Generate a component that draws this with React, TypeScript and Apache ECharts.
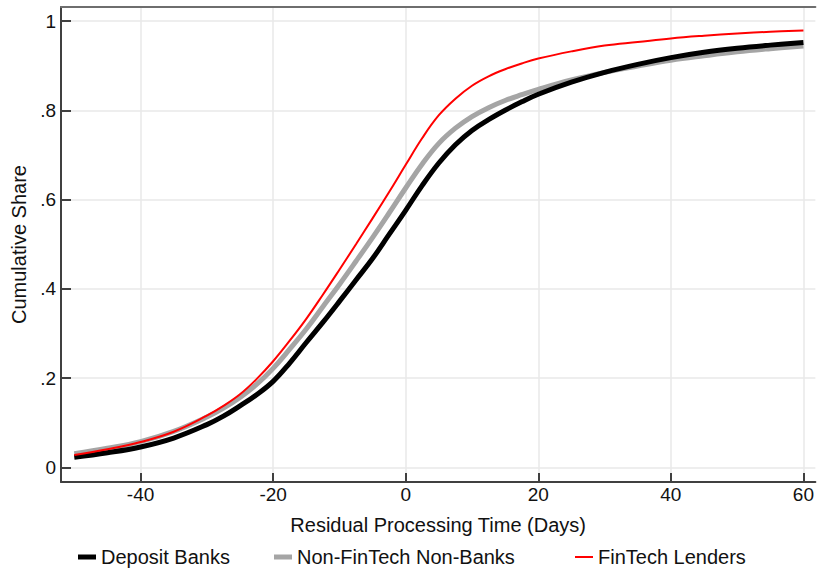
import React, { useEffect, useRef } from "react";
import * as echarts from "echarts";

// Residual processing time (days)
const days = [-50, -45, -40, -35, -30, -27.5, -25, -22.5, -20, -17.5, -15, -12.5, -10, -7.5, -5, -2.5, 0, 2.5, 5, 7.5, 10, 12.5, 15, 17.5, 20, 25, 30, 35, 40, 45, 50, 55, 60];

const depositBanks = [0.023, 0.033, 0.046, 0.066, 0.096, 0.115, 0.138, 0.163, 0.193, 0.234, 0.28, 0.325, 0.372, 0.42, 0.468, 0.522, 0.576, 0.632, 0.682, 0.723, 0.755, 0.779, 0.8, 0.819, 0.836, 0.863, 0.885, 0.903, 0.918, 0.93, 0.939, 0.946, 0.952];
const nonFinTechNonBanks = [0.031, 0.043, 0.058, 0.081, 0.113, 0.133, 0.157, 0.186, 0.222, 0.265, 0.31, 0.36, 0.41, 0.462, 0.515, 0.57, 0.626, 0.68, 0.726, 0.76, 0.786, 0.806, 0.822, 0.835, 0.847, 0.868, 0.885, 0.899, 0.912, 0.922, 0.931, 0.938, 0.944];
const finTechLenders = [0.028, 0.041, 0.057, 0.08, 0.116, 0.138, 0.164, 0.198, 0.238, 0.284, 0.333, 0.387, 0.443, 0.5, 0.558, 0.617, 0.678, 0.738, 0.789, 0.826, 0.855, 0.876, 0.892, 0.905, 0.916, 0.932, 0.945, 0.953, 0.961, 0.967, 0.972, 0.976, 0.979];

const seriesNames = ["Deposit Banks", "Non-FinTech Non-Banks", "FinTech Lenders"];
const xTicks = [-40, -20, 0, 20, 40, 60];
const yTicks = [0, 0.2, 0.4, 0.6, 0.8, 1];

const FONT = "'Liberation Sans', Arial, Helvetica, sans-serif";

function pairs(xs: number[], ys: number[]) {
  return xs.map((x, i) => [x, ys[i]]);
}

function fmtY(v: number) {
  if (Math.abs(v) < 1e-9) return "0";
  if (Math.abs(v - 1) < 1e-9) return "1";
  return v.toFixed(1).replace(/^0/, "");
}

export default function App() {
  const ref = useRef<HTMLDivElement>(null);

  useEffect(() => {
    if (!ref.current) return;
    const chart = echarts.init(ref.current, undefined, { renderer: "svg" });
    const xMin = -52;
    const xMax = 61.8;
    const axisColor = "#404040";
    const legendCommon = {
      top: 547,
      padding: 0,
      itemWidth: 18,
      itemGap: 10,
      icon: "rect",
      textStyle: { fontSize: 20, color: "#111", fontFamily: FONT },
    };
    chart.setOption({
      animation: false,
      backgroundColor: "#ffffff",
      textStyle: { fontFamily: FONT },
      grid: { left: 61, right: 0, top: 7, bottom: 89 },
      legend: [
        { ...legendCommon, left: 78, itemHeight: 5, data: [seriesNames[0]] },
        { ...legendCommon, left: 274, itemHeight: 5, data: [seriesNames[1]] },
        { ...legendCommon, left: 575, itemHeight: 2, data: [seriesNames[2]] },
      ],
      xAxis: [
        {
          type: "value",
          min: xMin,
          max: xMax,
          position: "bottom",
          name: "Residual Processing Time (Days)",
          nameLocation: "middle",
          nameGap: 33,
          nameTextStyle: { fontSize: 20, color: "#111", fontFamily: FONT },
          axisLine: { show: true, onZero: false, lineStyle: { color: axisColor, width: 2 } },
          axisTick: { show: true, inside: true, length: 9, customValues: xTicks, lineStyle: { color: axisColor, width: 2 } },
          axisLabel: { customValues: xTicks, fontSize: 19, color: "#111", margin: 3, fontFamily: FONT },
          splitLine: { show: true, lineStyle: { color: "#e8e8e8", width: 1.5 } },
        },
        {
          type: "value",
          min: xMin,
          max: xMax,
          position: "top",
          axisLine: { show: true, onZero: false, lineStyle: { color: "#6e6e6e", width: 2 } },
          axisTick: { show: false },
          axisLabel: { show: false },
          splitLine: { show: false },
        },
      ],
      yAxis: {
        type: "value",
        min: -0.0325,
        max: 1.0314,
        name: "Cumulative Share",
        nameLocation: "middle",
        nameGap: 30,
        nameTextStyle: { fontSize: 20, color: "#111", fontFamily: FONT },
        axisLine: { show: true, onZero: false, lineStyle: { color: axisColor, width: 2 } },
        axisTick: { show: true, inside: true, length: 10, customValues: yTicks, lineStyle: { color: axisColor, width: 2 } },
        axisLabel: { customValues: yTicks, fontSize: 19, color: "#111", margin: 5, fontFamily: FONT, formatter: (v: number) => fmtY(v) },
        splitLine: { show: true, lineStyle: { color: "#e8e8e8", width: 1.5 } },
      },
      series: [
        {
          name: seriesNames[0],
          type: "line",
          xAxisIndex: 0,
          smooth: 0.4,
          symbol: "none",
          z: 3,
          data: pairs(days, depositBanks),
          lineStyle: { color: "#000000", width: 5 },
          itemStyle: { color: "#000000" },
        },
        {
          name: seriesNames[1],
          type: "line",
          xAxisIndex: 0,
          smooth: 0.4,
          symbol: "none",
          z: 2,
          data: pairs(days, nonFinTechNonBanks),
          lineStyle: { color: "#a5a5a5", width: 5 },
          itemStyle: { color: "#a5a5a5" },
        },
        {
          name: seriesNames[2],
          type: "line",
          xAxisIndex: 0,
          smooth: 0.4,
          symbol: "none",
          z: 4,
          data: pairs(days, finTechLenders),
          lineStyle: { color: "#ff0000", width: 2 },
          itemStyle: { color: "#ff0000" },
        },
      ],
    });
    return () => chart.dispose();
  }, []);

  return (
    <div
      ref={ref}
      style={{ position: "fixed", left: 0, top: 0, width: 817, height: 571, background: "#fff" }}
    />
  );
}
